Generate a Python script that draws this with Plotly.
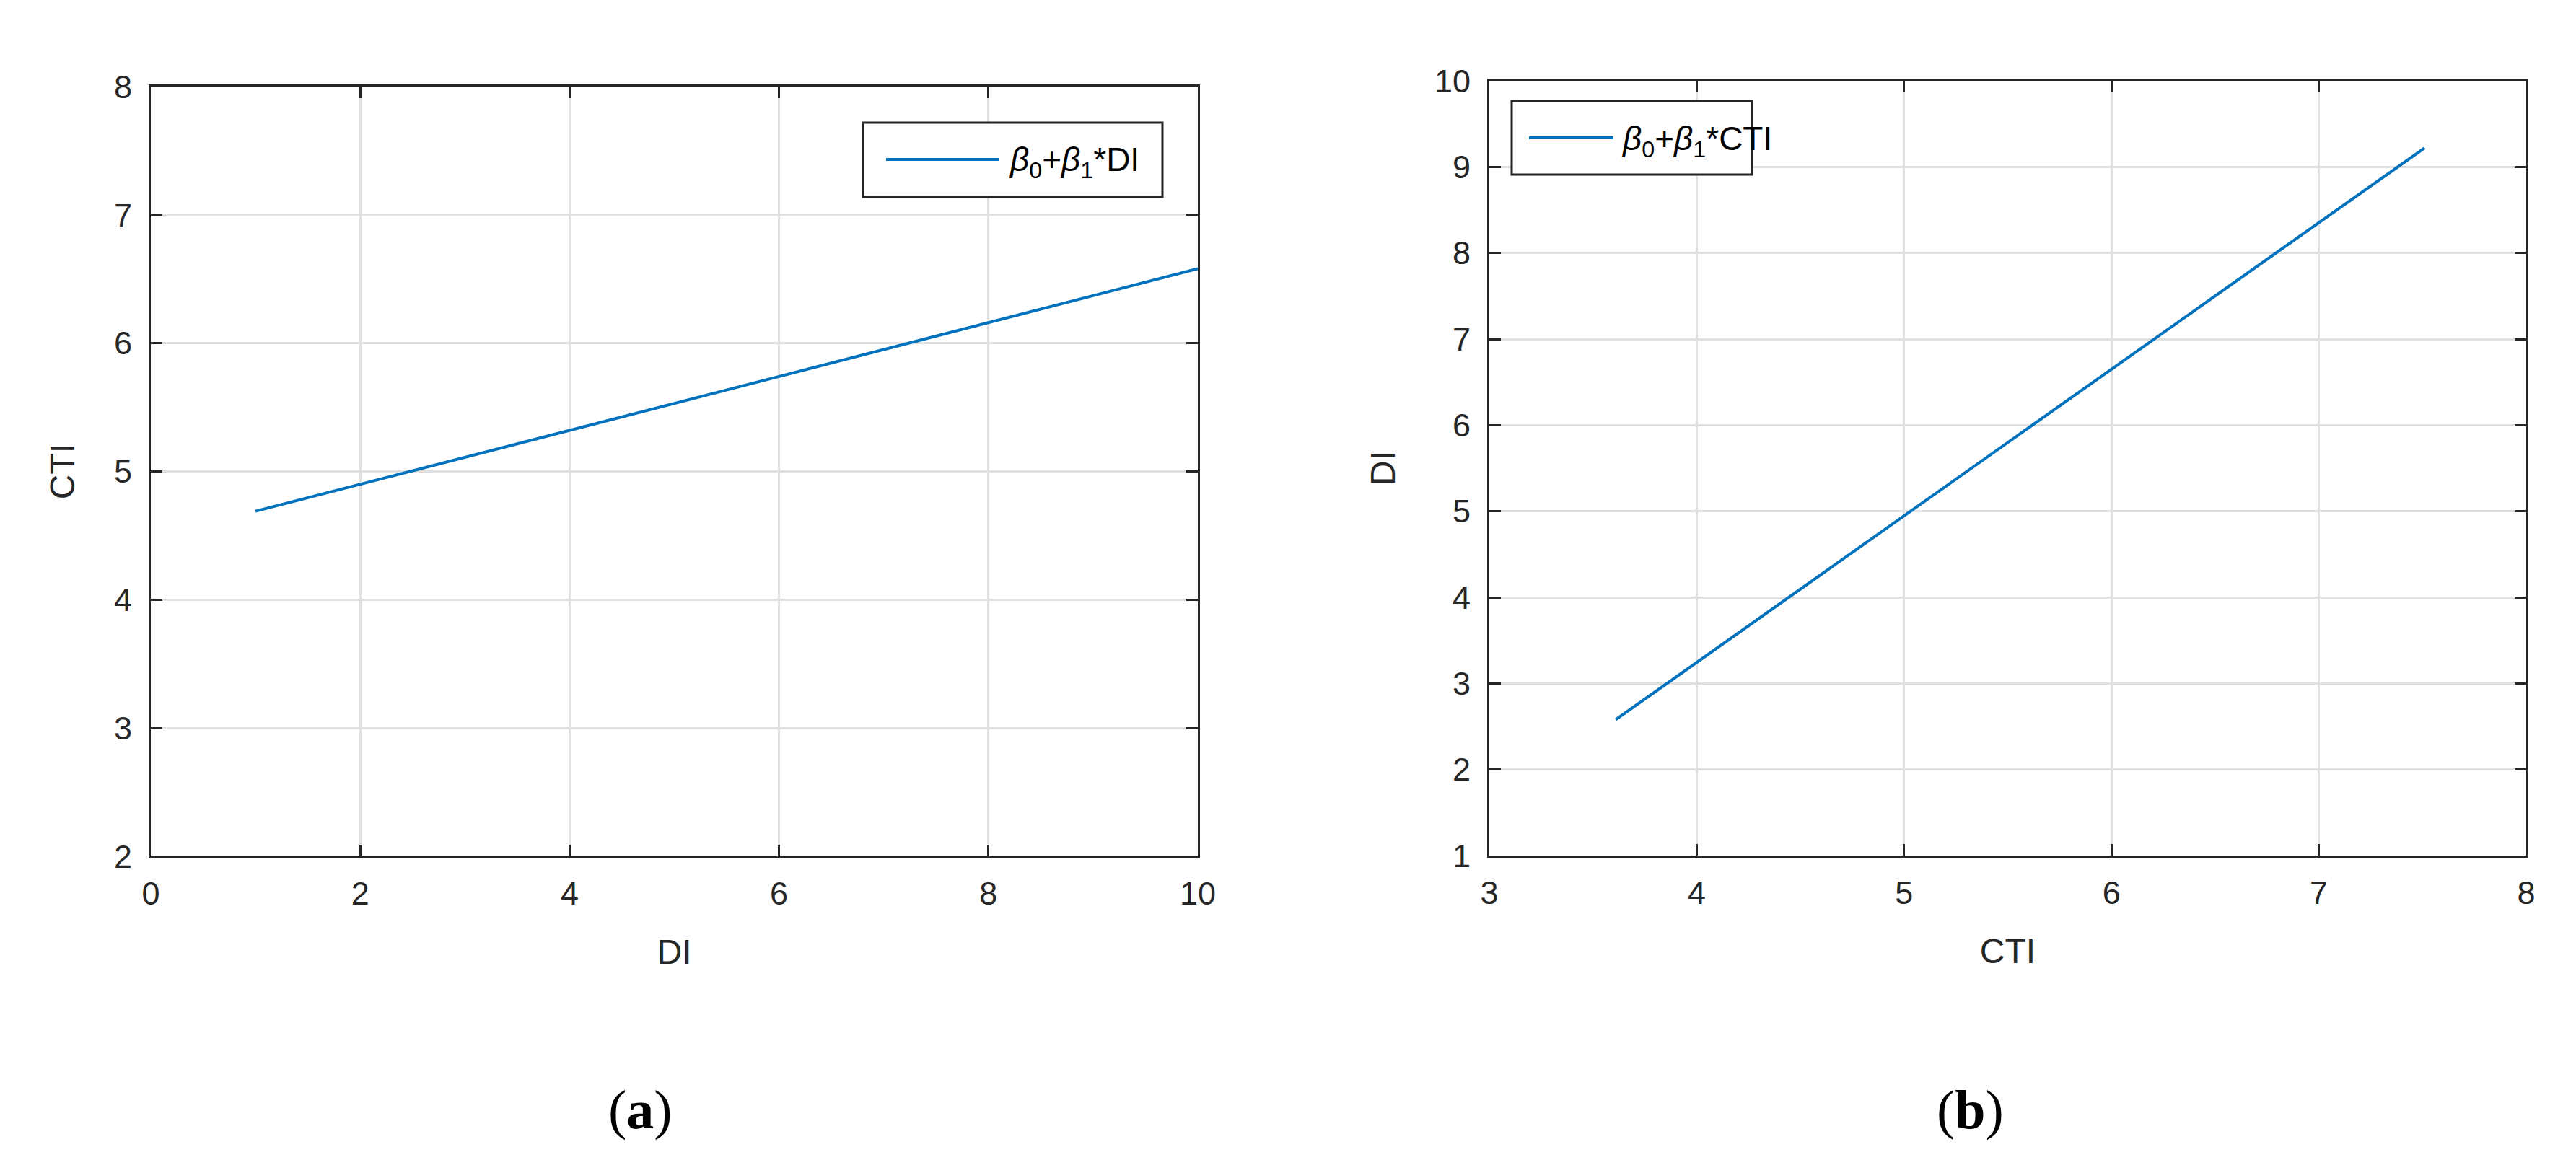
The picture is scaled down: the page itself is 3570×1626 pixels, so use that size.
import plotly.graph_objects as go

# Panel (a): CTI = b0 + b1*DI
di_a = [1.0, 10.0]
cti_a = [4.69, 6.58]
# Panel (b): DI = b0 + b1*CTI
cti_b = [3.61, 7.51]
di_b = [2.58, 9.22]

xticks_a = [0, 2, 4, 6, 8, 10]
yticks_a = [2, 3, 4, 5, 6, 7, 8]
xticks_b = [3, 4, 5, 6, 7, 8]
yticks_b = [1, 2, 3, 4, 5, 6, 7, 8, 9, 10]

legend_a = "<i>β</i><sub>0</sub>+<i>β</i><sub>1</sub>*DI"
legend_b = "<i>β</i><sub>0</sub>+<i>β</i><sub>1</sub>*CTI"

W, H = 3570, 1626
AX = "#262626"
GRID = "#e0e0e0"
BLUE = "#0072BD"
FONT = "Liberation Sans"

def px(x):
    return x / W

def py(y):
    return 1 - y / H

fig = go.Figure()
fig.add_trace(go.Scatter(x=di_a, y=cti_a, mode="lines", line=dict(color=BLUE, width=4),
                         name=legend_a, xaxis="x", yaxis="y", showlegend=False))
fig.add_trace(go.Scatter(x=cti_b, y=di_b, mode="lines", line=dict(color=BLUE, width=4),
                         name=legend_b, xaxis="x2", yaxis="y2", showlegend=False))

common = dict(showline=True, linecolor=AX, linewidth=3, mirror="ticks",
              ticks="inside", ticklen=16, tickwidth=3, tickcolor=AX,
              showgrid=True, gridcolor=GRID, gridwidth=3, zeroline=False,
              automargin=False,
              tickfont=dict(family=FONT, size=45, color=AX),
              title_font=dict(family=FONT, size=48, color=AX))

shapes = []
annotations = []

# manual legends (box, key line, label)
for (bx0, by0, bx1, by1, lx0, lx1, ly, tx, text) in [
    (1188, 162, 1603, 265, 1220, 1376, 213, 1388, legend_a),
    (2087, 132, 2420, 234, 2111, 2228, 183, 2237, legend_b),
]:
    shapes.append(dict(type="rect", xref="paper", yref="paper",
                       x0=px(bx0), x1=px(bx1), y0=py(by1), y1=py(by0),
                       line=dict(color=AX, width=3), fillcolor="white", layer="above"))
    shapes.append(dict(type="line", xref="paper", yref="paper",
                       x0=px(lx0), x1=px(lx1), y0=py(ly), y1=py(ly),
                       line=dict(color=BLUE, width=4), layer="above"))
    annotations.append(dict(text=text, x=px(tx), y=py(ly + 4), xref="paper", yref="paper",
                            xanchor="left", yanchor="middle", showarrow=False,
                            font=dict(family=FONT, size=46, color="black")))

for lab, cx in [("(<b>a</b>)", 879), ("(<b>b</b>)", 2722)]:
    annotations.append(dict(text=lab, x=px(cx), y=py(1530), xref="paper", yref="paper",
                            showarrow=False,
                            font=dict(family="Liberation Serif", size=76, color="black"),
                            xanchor="center", yanchor="middle"))

fig.update_layout(
    width=W, height=H, plot_bgcolor="white", paper_bgcolor="white",
    margin=dict(l=0, r=0, t=0, b=0),
    showlegend=False,
    xaxis=dict(domain=[px(201), px(1652)], range=[0, 10], tickvals=xticks_a,
               title=dict(text="DI", standoff=40), anchor="y", ticklabelstandoff=10, **common),
    yaxis=dict(domain=[py(1179), py(112)], range=[2, 8], tickvals=yticks_a,
               title=dict(text="CTI", standoff=40), anchor="x", ticklabelstandoff=14, **common),
    xaxis2=dict(domain=[px(2056), px(3493)], range=[3, 8], tickvals=xticks_b,
                title=dict(text="CTI", standoff=40), anchor="y2", ticklabelstandoff=10, **common),
    yaxis2=dict(domain=[py(1178), py(104)], range=[1, 10], tickvals=yticks_b,
                title=dict(text="DI", standoff=40), anchor="x2", ticklabelstandoff=14, **common),
    shapes=shapes,
    annotations=annotations,
)

fig.write_html("out.html")
